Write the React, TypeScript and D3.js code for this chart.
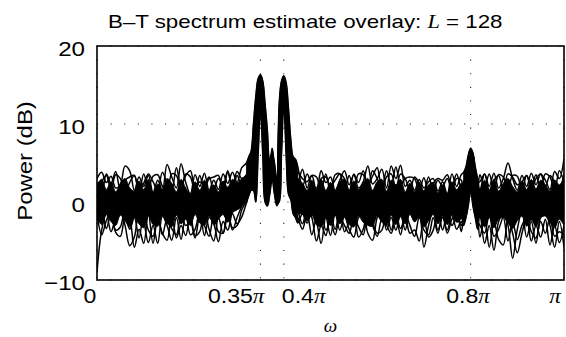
import React from "react";
import * as d3 from "d3";

// frequency grid, in units of pi
const omega: number[] = [
  0, 0.01, 0.02, 0.03, 0.04, 0.05, 0.06, 0.07, 0.08, 0.09, 0.1, 0.11, 0.12, 0.13, 0.14, 0.15, 0.16, 0.17, 0.18, 0.19, 0.2, 0.21, 0.22, 0.23, 0.24, 0.25, 0.26, 0.27, 0.28, 0.29, 0.3, 0.31, 0.32,
  0.325, 0.33, 0.335, 0.34, 0.345, 0.35, 0.355, 0.36, 0.365, 0.37, 0.375, 0.38, 0.385, 0.39, 0.395, 0.4, 0.405, 0.41, 0.415, 0.42, 0.425, 0.43,
  0.44, 0.45, 0.46, 0.47, 0.48, 0.49, 0.5, 0.51, 0.52, 0.53, 0.54, 0.55, 0.56, 0.57, 0.58, 0.59, 0.6, 0.61, 0.62, 0.63, 0.64, 0.65, 0.66, 0.67, 0.68, 0.69, 0.7, 0.71, 0.72, 0.73, 0.74, 0.75, 0.76, 0.77, 0.78,
  0.785, 0.79, 0.795, 0.8, 0.805, 0.81, 0.815,
  0.82, 0.83, 0.84, 0.85, 0.86, 0.87, 0.88, 0.89, 0.9, 0.91, 0.92, 0.93, 0.94, 0.95, 0.96, 0.97, 0.98, 0.99, 1,
];

// individual B-T estimates (dB), read from the overlay
const run1: number[] = [
  3.0, 3.8, 2.5, 3.3, 1.8, 2.2, 4.6, 4.0, 1.5, 3.2, 2.0, 3.4, 1.2, 2.8, 1.5, 4.8, 3.2, 1.8, 4.9, 2.5, 1.0, 3.5, 2.0, 3.7, 1.5, 2.8, 1.6, 3.6, 2.4, 3.8, 2.5, 4.4, 5.0,
  5.8, 6.5, 10.0, 13.5, 15.8, 16.3, 15.5, 12.5, 9.0, 2.0, 6.9, 4.0, 2.0, 12.5, 15.5, 16.2, 15.3, 12.0, 8.0, 5.8, 5.5, 4.5,
  2.0, 3.6, 2.2, 1.8, 4.0, 2.5, 3.2, 1.5, 2.8, 4.0, 2.2, 3.5, 1.8, 2.6, 4.6, 2.3, 3.0, 4.2, 1.8, 4.6, 3.0, 4.7, 2.0, 2.8, 1.5, 2.9, 1.8, 2.6, 3.0, 1.4, 2.6, 1.0, 3.6, 2.0, 3.5,
  3.8, 4.5, 6.0, 6.9, 6.3, 4.5, 3.0,
  1.5, 3.6, 2.0, 3.7, 1.8, 3.0, 5.0, 3.0, 1.5, 3.4, 2.0, 3.7, 2.2, 3.6, 2.8, 1.6, 3.9, 3.0, 5.6,
];
const run2: number[] = [
  1.5, 2.6, 3.4, 1.5, 3.5, 3.0, 1.0, 2.5, 3.4, 1.2, 3.6, 1.8, 3.3, 3.5, 2.0, 1.2, 3.6, 3.4, 1.5, 3.6, 3.2, 1.2, 3.4, 1.6, 3.0, 3.2, 3.4, 1.4, 3.8, 2.0, 3.9, 3.0, 3.5,
  4.5, 4.0, 8.0, 12.0, 14.8, 15.3, 14.5, 10.5, 4.0, 3.0, 5.8, 4.5, 0.5, 9.5, 14.5, 15.2, 14.0, 10.0, 5.0, 3.0, 4.0, 2.5,
  4.2, 1.8, 3.4, 3.2, 1.5, 3.6, 1.2, 3.5, 3.6, 1.5, 3.4, 1.6, 3.6, 3.5, 1.6, 4.0, 3.0, 1.8, 4.0, 2.0, 4.5, 2.2, 3.0, 3.2, 3.0, 1.5, 3.1, 1.2, 2.4, 3.0, 2.8, 3.5, 2.0, 3.6, 1.8,
  2.5, 3.5, 5.0, 5.8, 5.5, 3.5, 1.5,
  3.5, 2.0, 3.6, 1.5, 3.5, 3.2, 1.5, 3.4, 3.3, 1.5, 3.4, 2.0, 3.5, 1.5, 3.6, 3.2, 1.5, 4.0, 2.5,
];
const run3: number[] = [
  -9.0, -3.6, -1.5, -3.8, -2.0, -1.0, -3.0, -5.6, -4.5, -1.2, -2.5, -5.2, -3.0, -5.3, -1.8, -3.0, -4.9, -2.0, -4.8, -1.5, -4.2, -3.5, -1.2, -4.3, -2.0, -2.8, -5.1, -2.5, -3.6, -1.5, -2.8, -1.9, -0.1,
  0.8, 1.5, 1.5, 0.0, 6.0, 11.8, 6.0, 0.0, -0.5, 1.0, 3.0, 1.0, -0.2, 0.0, 6.0, 12.6, 6.0, 1.0, 0.3, -1.5, -2.0, -2.7,
  -1.5, -2.7, -1.2, -2.5, -5.3, -2.0, -4.3, -1.5, -3.6, -1.8, -3.5, -4.5, -2.0, -1.5, -4.0, -4.9, -2.0, -1.0, -3.6, -2.0, -3.6, -1.5, -3.6, -1.2, -2.5, -1.5, -5.8, -3.0, -1.2, -3.6, -2.0, -3.6, -1.5, -3.5, -2.5,
  -3.0, -2.0, -0.5, 1.5, -0.5, -2.0, -3.5,
  -1.5, -5.3, -3.0, -6.2, -2.5, -1.5, -3.0, -7.2, -3.5, -1.2, -4.5, -2.5, -5.3, -2.0, -1.5, -3.0, -5.8, -2.5, -5.8,
];
const run4: number[] = [
  -2.0, -1.0, -3.4, -1.5, -3.6, -3.2, -1.0, -2.0, -5.8, -3.5, -5.3, -1.5, -5.3, -2.2, -4.0, -4.9, -1.5, -4.6, -3.0, -4.3, -1.5, -4.3, -3.8, -1.0, -3.5, -5.0, -2.0, -4.0, -1.0, -3.6, -2.0, -0.5, 1.0,
  2.0, 2.5, 5.0, 9.0, 12.5, 14.0, 12.0, 6.5, 1.5, 4.5, 5.0, 3.0, 1.0, 6.0, 11.5, 13.8, 12.5, 8.0, 2.0, 1.0, 0.5, -1.0,
  -2.8, -0.8, -2.0, -5.0, -3.0, -4.3, -1.5, -3.5, -1.2, -3.8, -2.5, -1.5, -4.5, -3.5, -1.2, -2.5, -4.0, -3.6, -1.2, -3.6, -1.5, -3.4, -2.0, -4.0, -3.6, -5.0, -2.0, -4.5, -3.6, -1.0, -3.6, -1.5, -3.0, -2.0, -3.0,
  -1.0, 0.5, 3.0, 4.5, 3.5, 0.0, -1.5,
  -4.5, -2.0, -5.8, -2.5, -4.8, -5.5, -2.0, -4.0, -6.5, -4.0, -2.0, -5.0, -3.0, -4.5, -2.2, -5.5, -3.0, -5.2, -3.0,
];
const run5: number[] = [
  0.5, -1.0, 1.2, -0.5, 0.8, -1.5, 1.5, 0.0, -1.2, 1.0, -0.8, 0.6, -1.5, 1.2, 0.0, -0.8, 1.4, -1.0, 0.5, 1.0, -1.2, 0.3, 1.5, -0.6, 0.8, -1.0, 1.2, 0.2, -0.5, 1.5, 0.5, 1.8, 2.5,
  3.0, 4.0, 7.0, 11.0, 14.8, 15.8, 13.5, 8.0, 1.0, 3.5, 4.5, 2.5, 1.5, 8.5, 13.5, 15.7, 13.0, 7.0, 2.5, 2.0, 1.5, 0.5,
  1.0, -1.0, 0.5, 1.5, -0.8, 0.3, 1.2, -1.3, 0.8, -0.5, 1.0, 0.0, -1.2, 1.3, -0.6, 0.5, -1.0, 1.5, 0.2, -0.8, 1.0, -1.2, 0.4, 1.2, -0.5, 0.6, -1.0, 1.0, -0.3, 0.8, -1.2, 0.5, 1.0, -0.5, 0.8,
  2.0, 3.0, 4.5, 5.5, 5.0, 2.5, 0.5,
  -0.5, 1.0, -1.0, 0.5, 1.2, -0.8, 0.3, 1.0, -1.2, 0.5, 1.0, -0.6, 0.8, -1.0, 0.4, 1.2, -0.5, 0.6, 1.0,
];
const run6: number[] = [
  -1.0, 0.8, -0.5, 1.0, -1.2, 0.5, -0.3, 1.2, 0.5, -1.0, 1.2, -0.5, 0.8, -0.8, 1.0, 0.3, -1.2, 0.8, -0.4, -1.0, 1.0, -0.8, -0.2, 1.0, -1.2, 0.8, -0.5, 1.0, 0.8, -0.8, 0.0, 0.8, 1.5,
  2.5, 3.5, 6.0, 10.0, 12.5, 13.0, 11.5, 5.5, 0.5, 4.0, 5.5, 3.5, 0.0, 4.5, 10.5, 14.6, 11.0, 5.5, 1.5, 2.5, 3.0, 1.5,
  -0.5, 1.2, -0.8, 0.0, 1.0, -1.0, 0.5, 0.8, -0.8, 1.2, -0.5, 0.8, 1.0, -0.8, 0.4, 1.0, 0.5, -1.0, 1.0, 0.6, -0.8, 0.5, 1.2, -0.6, -1.0, 0.8, 0.5, -0.8, 1.0, -0.5, 0.6, -0.8, 0.0, 1.2, 0.5,
  1.5, 2.5, 4.0, 5.0, 4.5, 2.0, 0.0,
  1.0, -0.8, 0.8, -0.4, -1.0, 1.0, 0.5, -0.8, 0.8, -0.5, -1.0, 1.0, -0.5, 0.8, -0.8, 1.0, 0.2, -1.0, 0.5,
];
const run7: number[] = [
  2.0, 1.2, 3.6, 2.4, 3.9, 1.5, 2.8, 3.2, 3.4, 1.6, 2.4, 3.6, 2.6, 1.5, 3.8, 2.4, 1.5, 4.4, 2.0, 3.4, 4.0, 1.8, 2.6, 2.2, 3.2, 1.6, 3.0, 2.2, 4.0, 1.4, 3.4, 2.0, 2.8,
  3.5, 5.0, 8.5, 12.5, 14.5, 14.8, 14.0, 9.5, 2.5, 5.5, 6.2, 5.0, 2.5, 11.0, 14.5, 14.9, 14.0, 9.0, 4.5, 4.8, 2.5, 3.8,
  3.0, 2.6, 3.4, 1.4, 3.0, 3.2, 2.0, 2.8, 3.6, 3.0, 1.4, 3.6, 2.5, 4.0, 2.2, 3.3, 4.4, 1.6, 3.2, 3.6, 1.8, 3.6, 3.0, 1.5, 3.2, 2.4, 1.3, 3.2, 1.6, 2.8, 2.0, 3.0, 1.5, 3.0, 2.8,
  1.5, 2.0, 4.5, 6.2, 6.0, 3.0, 2.5,
  2.6, 3.6, 1.5, 2.8, 3.4, 1.5, 3.6, 3.2, 2.2, 2.6, 3.4, 1.6, 3.0, 3.6, 2.0, 3.4, 2.6, 1.8, 3.6,
];
const run8: number[] = [
  -1.5, -4.2, -2.4, -1.2, -3.9, -4.4, -1.8, -3.5, -2.0, -4.6, -1.6, -3.6, -4.4, -1.5, -4.2, -2.2, -3.4, -4.2, -1.8, -3.0, -2.6, -4.6, -2.0, -3.0, -4.4, -1.6, -3.8, -4.0, -1.6, -3.3, -3.0, -1.0, 0.2,
  1.5, 2.0, 4.0, 8.0, 11.5, 12.8, 11.0, 6.0, 0.0, 1.5, 4.0, 2.0, -0.5, 4.0, 10.0, 13.0, 10.0, 4.0, 1.0, 0.0, -1.5, -2.0,
  -3.5, -1.5, -4.2, -2.0, -1.2, -3.6, -2.6, -4.2, -2.0, -3.0, -4.0, -2.0, -3.2, -4.2, -1.6, -3.0, -4.4, -2.2, -3.0, -4.0, -2.0, -4.2, -1.5, -3.0, -4.4, -2.0, -3.6, -4.2, -2.0, -4.0, -1.5, -4.0, -2.2, -1.2, -3.8,
  -2.0, -1.0, 1.0, 3.0, 1.0, -1.0, -2.5,
  -3.0, -4.0, -1.5, -4.4, -3.5, -2.0, -5.0, -2.5, -4.8, -3.0, -2.0, -3.8, -4.6, -2.5, -4.0, -2.0, -4.4, -3.8, -4.2,
];

// dense core of the overlay (where the many traces merge); null = no solid core
const coreTop: (number | null)[] = [
  2.2, 2.9, 1.6, 2.6, 1.3, 2.4, 3.0, 1.8, 1.4, 2.7, 1.6, 2.9, 1.2, 2.3, 1.5, 3.0, 2.4, 1.3, 2.9, 1.8, 1.1, 2.6, 1.5, 2.8, 1.4, 2.2, 1.3, 2.7, 1.9, 2.9, 2.4, 3.0, 3.4,
  null, null, null, null, null, null, null, null, null, null, null, null, null, null, null, null, null, null, null, null, null, 3.0,
  2.4, 1.5, 2.8, 1.6, 2.9, 1.5, 2.5, 1.4, 2.6, 2.9, 1.5, 2.7, 1.6, 2.4, 3.0, 1.5, 2.6, 2.9, 1.4, 2.8, 2.2, 2.9, 1.3, 2.4, 1.3, 2.5, 1.4, 2.2, 2.5, 1.2, 2.2, 1.1, 2.6, 1.6, 2.4,
  2.5, null, null, null, null, null, 2.5,
  1.6, 2.8, 1.5, 2.9, 1.4, 2.4, 3.0, 2.0, 1.3, 2.7, 1.6, 2.9, 1.7, 2.8, 2.2, 1.4, 2.8, 2.2, 3.0,
];
const coreBottom: (number | null)[] = [
  -2.0, -2.9, -1.6, -2.5, -3.0, -1.7, -2.4, -3.2, -2.0, -2.8, -3.3, -1.8, -2.9, -3.1, -1.8, -2.7, -3.2, -1.7, -2.8, -2.2, -3.0, -1.6, -2.7, -3.0, -1.8, -2.9, -2.2, -1.6, -2.6, -1.4, -1.0, -0.6, 0.4,
  null, null, null, null, null, null, null, null, null, null, null, null, null, null, null, null, null, null, null, null, null, -1.5,
  -1.6, -2.4, -1.7, -2.9, -3.2, -2.0, -3.0, -1.7, -2.8, -2.0, -2.9, -3.2, -1.8, -2.6, -3.0, -3.1, -1.8, -2.6, -3.0, -1.7, -2.9, -1.9, -2.8, -1.6, -2.5, -2.0, -3.2, -2.4, -1.6, -2.8, -1.8, -2.9, -1.6, -2.6, -2.2,
  -2.0, null, null, null, null, null, -2.0,
  -2.0, -3.2, -2.0, -3.3, -2.2, -2.0, -2.7, -3.4, -2.4, -1.8, -3.1, -2.3, -3.2, -2.0, -1.8, -2.6, -3.3, -2.2, -3.0,
];

// sinusoid neighbourhoods where the overlay forms solid lobes (units of pi)
const lobeRanges: [number, number][] = [
  [0.32, 0.43],
  [0.785, 0.815],
];

const yTicks = [-10, 0, 10, 20];
const yTickLabels = ["\u221210", "0", "10", "20"];
const xTicks = [0, 0.35, 0.4, 0.8, 1];
const xTickNumbers = ["0", "0.35", "0.4", "0.8", ""];
const xTickHasPi = [false, true, true, true, true];
const titleMain = "B\u2013T spectrum estimate overlay: ";
const titleVar = "L";
const titleTail = " = 128";
const yLabel = "Power (dB)";
const xLabel = "\u03c9";

// layout (not data)
const W = 566, H = 337;
const X0 = 97, X1 = 564, Y0 = 46, Y1 = 280;
const xLabelAnchor = ["middle", "end", "start", "middle", "middle"];
const xLabelShift = [-7, 4, -2, -2.6, -9];
const SANS = "'Liberation Sans', Arial, Helvetica, sans-serif";
const SERIF = "'Liberation Serif', 'Times New Roman', serif";

export default function App() {
  const x = d3.scaleLinear().domain([0, 1]).range([X0, X1]);
  const y = d3.scaleLinear().domain([-10, 20]).range([Y1, Y0]);
  const idx = omega.map((_, i) => i);
  const runs = [run1, run2, run3, run4, run5, run6, run7, run8];
  const curve = d3.curveCatmullRom.alpha(0.5);

  const lineFor = (vals: number[]) =>
    d3
      .line<number>()
      .x((i) => x(omega[i]))
      .y((i) => y(vals[i]))
      .curve(curve)(idx.filter((i) => i < vals.length)) || "";

  const corePath =
    d3
      .area<number>()
      .defined((i) => coreTop[i] != null && coreBottom[i] != null)
      .x((i) => x(omega[i]))
      .y0((i) => y(coreBottom[i] as number))
      .y1((i) => y(coreTop[i] as number))
      .curve(curve)(idx) || "";

  const inLobe = (i: number) =>
    lobeRanges.some(([a, b]) => omega[i] >= a - 1e-9 && omega[i] <= b + 1e-9);
  const envHi = idx.map((i) => d3.max(runs, (r) => r[i]) as number);
  const envLo = idx.map((i) => d3.min(runs, (r) => r[i]) as number);
  const lobePath =
    d3
      .area<number>()
      .defined(inLobe)
      .x((i) => x(omega[i]))
      .y0((i) => y(envLo[i]))
      .y1((i) => y(envHi[i]))
      .curve(curve)(idx) || "";

  const dots = { stroke: "#222", strokeWidth: 1.1, strokeDasharray: "1.1 12.5" };

  return (
    <svg width={W} height={H} style={{ position: "absolute", left: 0, top: 0, background: "#fff" }}>
      <defs>
        <clipPath id="plotClip">
          <rect x={X0} y={Y0} width={X1 - X0} height={Y1 - Y0} />
        </clipPath>
      </defs>
      <rect x={0} y={0} width={W} height={H} fill="#fff" />

      {/* dotted grid */}
      {yTicks.map((t) => (
        <line key={"gy" + t} x1={X0} x2={X1} y1={y(t)} y2={y(t)} {...dots} />
      ))}
      {xTicks.map((t) => (
        <line key={"gx" + t} x1={x(t)} x2={x(t)} y1={Y0} y2={Y1} {...dots} />
      ))}

      <g clipPath="url(#plotClip)">
        <path d={corePath} fill="#000" stroke="#000" strokeWidth={1} />
        <path d={lobePath} fill="#000" stroke="#000" strokeWidth={0.8} />
        {runs.map((r, k) => (
          <path key={k} d={lineFor(r)} fill="none" stroke="#000" strokeWidth={1.5} strokeLinejoin="round" />
        ))}
      </g>

      <rect x={X0} y={Y0} width={X1 - X0} height={Y1 - Y0} fill="none" stroke="#000" strokeWidth={1.6} />

      {/* title */}
      <g transform="translate(108,28.3) scale(1.2,1)">
        <text fontFamily={SANS} fontSize={18.6} fill="#000">
          {titleMain}
          <tspan fontFamily={SERIF} fontStyle="italic">{titleVar}</tspan>
          {titleTail}
        </text>
      </g>

      {/* y tick labels */}
      {yTicks.map((t, i) => (
        <g key={"yl" + t} transform={`translate(85,${y(t) + 9.5}) scale(1.15,1)`}>
          <text textAnchor="end" fontFamily={SANS} fontSize={21} fill="#000">
            {yTickLabels[i]}
          </text>
        </g>
      ))}

      {/* x tick labels */}
      {xTicks.map((t, i) => (
        <g key={"xl" + t} transform={`translate(${x(t) + xLabelShift[i]},303.3) scale(1.1,1)`}>
          <text textAnchor={xLabelAnchor[i] as any} fontFamily={SANS} fontSize={21} fill="#000">
            {xTickNumbers[i]}
            {xTickHasPi[i] ? (
              <tspan fontFamily={SERIF} fontStyle="italic">{"\u03c0"}</tspan>
            ) : null}
          </text>
        </g>
      ))}

      {/* axis labels */}
      <text x={(X0 + X1) / 2} y={332} textAnchor="middle" fontFamily={SERIF} fontStyle="italic" fontSize={19} fill="#000">
        {xLabel}
      </text>
      <g transform={`translate(31.5,${(Y0 + Y1) / 2 - 2}) rotate(-90) scale(1.14,1)`}>
        <text textAnchor="middle" fontFamily={SANS} fontSize={21} fill="#000">
          {yLabel}
        </text>
      </g>
    </svg>
  );
}
